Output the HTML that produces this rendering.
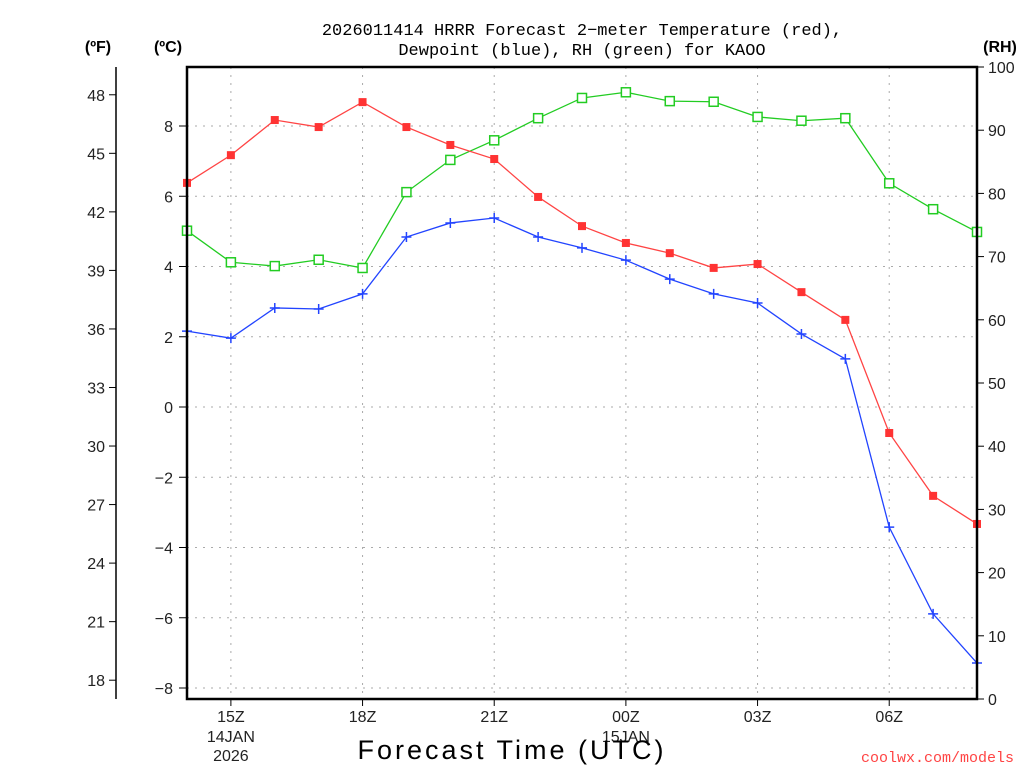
<!DOCTYPE html>
<html><head><meta charset="utf-8"><style>
html,body{margin:0;padding:0;background:#fff;}
svg{display:block;font-family:"Liberation Sans",sans-serif;}
</style></head><body>
<svg id="chart" width="1024" height="768" viewBox="0 0 1024 768" xmlns="http://www.w3.org/2000/svg">
<g id="grid"></g>
<g id="series"></g>
<g id="axes"></g>
<text x="582" y="35" font-size="17" text-anchor="middle" font-family="Liberation Mono, monospace">2026011414 HRRR Forecast 2−meter Temperature (red),</text>
<text x="582" y="55" font-size="17" text-anchor="middle" font-family="Liberation Mono, monospace">Dewpoint (blue), RH (green) for KAOO</text>
<text x="98" y="52" font-size="16" font-weight="bold" text-anchor="middle">(ºF)</text>
<text x="168" y="52" font-size="16" font-weight="bold" text-anchor="middle">(ºC)</text>
<text x="1000" y="52" font-size="16" font-weight="bold" text-anchor="middle">(RH)</text>
<text x="512" y="759" font-size="27" text-anchor="middle" letter-spacing="3">Forecast Time (UTC)</text>
<text x="1014" y="762" font-size="15" fill="#ff4444" text-anchor="end" font-family="Liberation Mono, monospace">coolwx.com/models</text>
</svg>
<script>
const hours = [14,15,16,17,18,19,20,21,22,23,24,25,26,27,28,29,30,31,32];
const tempC = [6.38,7.17,8.17,7.97,8.68,7.97,7.46,7.06,5.98,5.15,4.67,4.38,3.96,4.07,3.27,2.48,-0.74,-2.53,-3.33];
const dewC = [2.16,1.96,2.82,2.79,3.22,4.84,5.24,5.38,4.84,4.53,4.18,3.64,3.22,2.96,2.08,1.37,-3.42,-5.89,-7.29];
const rh = [74.1,69.1,68.5,69.5,68.2,80.2,85.3,88.4,91.9,95.1,96.0,94.6,94.5,92.1,91.5,91.9,81.6,77.5,73.9];
const cTicks = [-8,-6,-4,-2,0,2,4,6,8];
const fTicks = [18,21,24,27,30,33,36,39,42,45,48];
const rhTicks = [0,10,20,30,40,50,60,70,80,90,100];
const xTickHours = [15,18,21,24,27,30];
const xTickLabels = ["15Z","18Z","21Z","00Z","03Z","06Z"];

const L=187,R=977,T=67,B=699;
const NS="http://www.w3.org/2000/svg";
const xS=h=>L+(h-14)*(R-L)/18;
const yC=c=>407-c*35.125;
const yF=f=>yC((f-32)/1.8);
const yR=v=>B-v*(B-T)/100;
function mk(tag,attrs,parent,txt){const e=document.createElementNS(NS,tag);for(const k in attrs)e.setAttribute(k,attrs[k]);if(txt!==undefined)e.textContent=txt;parent.appendChild(e);return e;}
const grid=document.getElementById('grid'),ser=document.getElementById('series'),ax=document.getElementById('axes');
cTicks.forEach(c=>{const e=mk('line',{x1:L,x2:R,y1:yC(c),y2:yC(c),stroke:'#aaa','stroke-dasharray':'2,6'},grid);

});
xTickHours.forEach(h=>{const e=mk('line',{x1:xS(h),x2:xS(h),y1:T,y2:B,stroke:'#aaa','stroke-dasharray':'2,6'},grid);

});
function line(vals,yf,color,name){const pts=vals.map((v,i)=>xS(hours[i])+','+yf(v)).join(' ');
const e=mk('polyline',{points:pts,fill:'none',stroke:color,'stroke-width':1.3},ser);

}
line(rh,yR,'#22cc22','rh');line(tempC,yC,'#ff4444','temperature');line(dewC,yC,'#2244ff','dewpoint');
rh.forEach((v,i)=>{const e=mk('rect',{x:xS(hours[i])-4.5,y:yR(v)-4.5,width:9,height:9,fill:'#fff',stroke:'#22cc22','stroke-width':1.5},ser);

});
tempC.forEach((v,i)=>{const e=mk('rect',{x:xS(hours[i])-4,y:yC(v)-4,width:8,height:8,fill:'#ff3333'},ser);

});
dewC.forEach((v,i)=>{const x=xS(hours[i]),y=yC(v);const e=mk('path',{d:`M${x-5},${y}H${x+5}M${x},${y-5}V${y+5}`,stroke:'#2244ff','stroke-width':1.5},ser);

});
const fr=mk('rect',{x:L,y:T,width:R-L,height:B-T,fill:'none',stroke:'#000','stroke-width':2.5},ax);


const fl=mk('line',{x1:116,x2:116,y1:T,y2:B,stroke:'#000','stroke-width':1.5},ax);


cTicks.forEach(c=>{mk('line',{x1:179,x2:L,y1:yC(c),y2:yC(c),stroke:'#000'},ax);
const t=mk('text',{x:173,y:yC(c)+6,'font-size':16,'text-anchor':'end',fill:'#222'},ax,c<0?'−'+(-c):String(c));

});
fTicks.forEach(f=>{mk('line',{x1:109,x2:116,y1:yF(f),y2:yF(f),stroke:'#000'},ax);
const t=mk('text',{x:105,y:yF(f)+6,'font-size':16,'text-anchor':'end',fill:'#222'},ax,String(f));

});
rhTicks.forEach(v=>{mk('line',{x1:R,x2:R+7,y1:yR(v),y2:yR(v),stroke:'#000'},ax);
const t=mk('text',{x:988,y:yR(v)+6,'font-size':16,fill:'#222'},ax,String(v));

});
xTickHours.forEach((h,i)=>{mk('line',{x1:xS(h),x2:xS(h),y1:B,y2:B+7,stroke:'#000'},ax);
const t=mk('text',{x:xS(h),y:722,'font-size':16,'text-anchor':'middle',fill:'#222'},ax,xTickLabels[i]);

});
[["14JAN",xS(15),742],["2026",xS(15),761],["15JAN",xS(24),742]].forEach(d=>{const t=mk('text',{x:d[1],y:d[2],'font-size':16,'text-anchor':'middle',fill:'#222'},ax,d[0]);

});
</script>
</body></html>
